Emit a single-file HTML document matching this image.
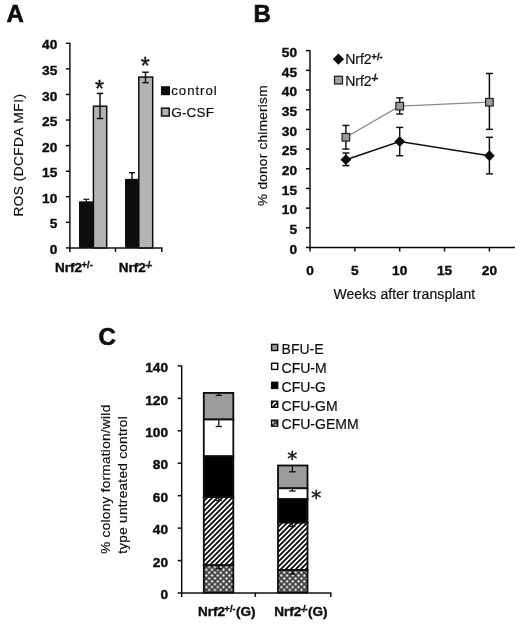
<!DOCTYPE html>
<html lang="en"><head><meta charset="utf-8"><title>Figure</title>
<style>html,body{margin:0;padding:0;background:#fff;}body{width:520px;height:627px;overflow:hidden;}svg{display:block;}text{font-family:"Liberation Sans", sans-serif;}</style>
</head><body>
<svg width="520" height="627" viewBox="0 0 520 627">
<defs>
<pattern id="hatch" width="5.0" height="5.0" patternUnits="userSpaceOnUse"><rect width="5.0" height="5.0" fill="#fff"/><path d="M-5.0 5.0 L5.0 -5.0 M0 5.0 L5.0 0 M0 10.0 L10.0 0" stroke="#0a0a0a" stroke-width="1.8"/></pattern>
<pattern id="dots" width="5.77" height="5.77" patternUnits="userSpaceOnUse"><rect width="5.77" height="5.77" fill="#404040"/><circle cx="1.4425" cy="1.4425" r="1.15" fill="#fff"/><circle cx="4.3275" cy="4.3275" r="1.15" fill="#fff"/></pattern>
<filter id="soft" x="-2%" y="-2%" width="104%" height="104%"><feGaussianBlur stdDeviation="0.18"/></filter>
</defs>
<rect width="520" height="627" fill="#fff"/>
<g filter="url(#soft)">
<text x="6.6" y="21.5" font-size="24" font-weight="bold" fill="#111" stroke="#111" stroke-width="0.6" >A</text>
<line x1="69.9" y1="42.8" x2="69.9" y2="248.5" stroke="#111" stroke-width="1.5" />
<line x1="69.30000000000001" y1="247.9" x2="162.5" y2="247.9" stroke="#111" stroke-width="1.5" />
<line x1="65.9" y1="247.9" x2="69.9" y2="247.9" stroke="#111" stroke-width="1.5" />
<text x="57.3" y="254.0" font-size="13.7" font-weight="bold" text-anchor="end" fill="#111" stroke="#111" stroke-width="0.4" >0</text>
<line x1="65.9" y1="222.32" x2="69.9" y2="222.32" stroke="#111" stroke-width="1.5" />
<text x="57.3" y="228.42" font-size="13.7" font-weight="bold" text-anchor="end" fill="#111" stroke="#111" stroke-width="0.4" >5</text>
<line x1="65.9" y1="196.75" x2="69.9" y2="196.75" stroke="#111" stroke-width="1.5" />
<text x="57.3" y="202.85" font-size="13.7" font-weight="bold" text-anchor="end" fill="#111" stroke="#111" stroke-width="0.4" >10</text>
<line x1="65.9" y1="171.18" x2="69.9" y2="171.18" stroke="#111" stroke-width="1.5" />
<text x="57.3" y="177.28" font-size="13.7" font-weight="bold" text-anchor="end" fill="#111" stroke="#111" stroke-width="0.4" >15</text>
<line x1="65.9" y1="145.6" x2="69.9" y2="145.6" stroke="#111" stroke-width="1.5" />
<text x="57.3" y="151.7" font-size="13.7" font-weight="bold" text-anchor="end" fill="#111" stroke="#111" stroke-width="0.4" >20</text>
<line x1="65.9" y1="120.03" x2="69.9" y2="120.03" stroke="#111" stroke-width="1.5" />
<text x="57.3" y="126.13" font-size="13.7" font-weight="bold" text-anchor="end" fill="#111" stroke="#111" stroke-width="0.4" >25</text>
<line x1="65.9" y1="94.45" x2="69.9" y2="94.45" stroke="#111" stroke-width="1.5" />
<text x="57.3" y="100.55" font-size="13.7" font-weight="bold" text-anchor="end" fill="#111" stroke="#111" stroke-width="0.4" >30</text>
<line x1="65.9" y1="68.88" x2="69.9" y2="68.88" stroke="#111" stroke-width="1.5" />
<text x="57.3" y="74.97999999999999" font-size="13.7" font-weight="bold" text-anchor="end" fill="#111" stroke="#111" stroke-width="0.4" >35</text>
<line x1="65.9" y1="43.3" x2="69.9" y2="43.3" stroke="#111" stroke-width="1.5" />
<text x="57.3" y="49.4" font-size="13.7" font-weight="bold" text-anchor="end" fill="#111" stroke="#111" stroke-width="0.4" >40</text>
<line x1="69.9" y1="247.9" x2="69.9" y2="251.9" stroke="#111" stroke-width="1.5" />
<line x1="115.5" y1="247.9" x2="115.5" y2="251.9" stroke="#111" stroke-width="1.5" />
<line x1="161.8" y1="247.9" x2="161.8" y2="251.9" stroke="#111" stroke-width="1.5" />
<rect x="79.0" y="201.35" width="14.4" height="46.55000000000001" fill="#080808" stroke="none" stroke-width="1"/>
<rect x="93.4" y="106.21" width="13.3" height="141.69" fill="#b3b3b3" stroke="#111" stroke-width="1.5"/>
<rect x="125" y="178.85" width="14.2" height="69.05000000000001" fill="#080808" stroke="none" stroke-width="1"/>
<rect x="138.8" y="77.06" width="13.9" height="170.84" fill="#b3b3b3" stroke="#111" stroke-width="1.5"/>
<line x1="86.3" y1="199.31" x2="86.3" y2="203.91" stroke="#111" stroke-width="1.2" />
<line x1="83.3" y1="199.31" x2="89.3" y2="199.31" stroke="#111" stroke-width="1.2" />
<line x1="83.3" y1="203.91" x2="89.3" y2="203.91" stroke="#111" stroke-width="1.2" />
<line x1="100.0" y1="93.43" x2="100.0" y2="118.49" stroke="#111" stroke-width="1.45" />
<line x1="96.75" y1="93.43" x2="103.25" y2="93.43" stroke="#111" stroke-width="1.45" />
<line x1="96.75" y1="118.49" x2="103.25" y2="118.49" stroke="#111" stroke-width="1.45" />
<line x1="132" y1="172.71" x2="132" y2="181.41" stroke="#111" stroke-width="1.45" />
<line x1="129.0" y1="172.71" x2="135.0" y2="172.71" stroke="#111" stroke-width="1.45" />
<line x1="129.0" y1="181.41" x2="135.0" y2="181.41" stroke="#111" stroke-width="1.45" />
<line x1="145.5" y1="72.2" x2="145.5" y2="82.69" stroke="#111" stroke-width="1.45" />
<line x1="142.25" y1="72.2" x2="148.75" y2="72.2" stroke="#111" stroke-width="1.45" />
<line x1="142.25" y1="82.69" x2="148.75" y2="82.69" stroke="#111" stroke-width="1.45" />
<text x="99.6" y="96.56" font-size="23" text-anchor="middle" fill="#111" stroke="#111" stroke-width="0.35">*</text>
<text x="145.2" y="74.46" font-size="23" text-anchor="middle" fill="#111" stroke="#111" stroke-width="0.35">*</text>
<rect x="161" y="86.2" width="9" height="9" fill="#111" stroke="none" stroke-width="1"/>
<text x="171.3" y="95.3" font-size="13.2" textLength="45.4" lengthAdjust="spacing" fill="#111" stroke="#111" stroke-width="0.2" >control</text>
<rect x="161.6" y="108.2" width="7.6" height="7.8" fill="#b3b3b3" stroke="#1a1a1a" stroke-width="1.6"/>
<text x="171.3" y="116.5" font-size="13.5" textLength="42.6" lengthAdjust="spacing" fill="#111" stroke="#111" stroke-width="0.2" >G-CSF</text>
<text x="23.5" y="216.6" font-size="13.6" textLength="122.6" lengthAdjust="spacing" transform="rotate(-90 23.5 216.6)" fill="#111" stroke="#111" stroke-width="0.2" >ROS (DCFDA MFI)</text>
<text x="55" y="271.9" font-size="13.5" font-weight="bold" fill="#111" stroke="#111" stroke-width="0.4" >Nrf2</text>
<text x="81.7" y="267.7" font-size="9" font-weight="bold" textLength="11.0" lengthAdjust="spacing" fill="#111" stroke="#111" stroke-width="0.4" >+/-</text>
<text x="118.8" y="271.9" font-size="13.5" font-weight="bold" fill="#111" stroke="#111" stroke-width="0.4" >Nrf2</text>
<text x="145.5" y="267.7" font-size="9" font-weight="bold" textLength="6.8" lengthAdjust="spacing" fill="#111" stroke="#111" stroke-width="0.4" >-/-</text>
<text x="253.6" y="21.5" font-size="24" font-weight="bold" fill="#111" stroke="#111" stroke-width="0.6" >B</text>
<line x1="310.0" y1="50.15" x2="310.0" y2="248.1" stroke="#111" stroke-width="1.5" />
<line x1="309.4" y1="247.5" x2="515" y2="247.5" stroke="#111" stroke-width="1.5" />
<line x1="306.0" y1="247.5" x2="310.0" y2="247.5" stroke="#111" stroke-width="1.5" />
<text x="297" y="253.7" font-size="13.7" font-weight="bold" text-anchor="end" fill="#111" stroke="#111" stroke-width="0.4" >0</text>
<line x1="306.0" y1="227.81" x2="310.0" y2="227.81" stroke="#111" stroke-width="1.5" />
<text x="297" y="234.01" font-size="13.7" font-weight="bold" text-anchor="end" fill="#111" stroke="#111" stroke-width="0.4" >5</text>
<line x1="306.0" y1="208.13" x2="310.0" y2="208.13" stroke="#111" stroke-width="1.5" />
<text x="297" y="214.32999999999998" font-size="13.7" font-weight="bold" text-anchor="end" fill="#111" stroke="#111" stroke-width="0.4" >10</text>
<line x1="306.0" y1="188.44" x2="310.0" y2="188.44" stroke="#111" stroke-width="1.5" />
<text x="297" y="194.64" font-size="13.7" font-weight="bold" text-anchor="end" fill="#111" stroke="#111" stroke-width="0.4" >15</text>
<line x1="306.0" y1="168.76" x2="310.0" y2="168.76" stroke="#111" stroke-width="1.5" />
<text x="297" y="174.95999999999998" font-size="13.7" font-weight="bold" text-anchor="end" fill="#111" stroke="#111" stroke-width="0.4" >20</text>
<line x1="306.0" y1="149.07" x2="310.0" y2="149.07" stroke="#111" stroke-width="1.5" />
<text x="297" y="155.26999999999998" font-size="13.7" font-weight="bold" text-anchor="end" fill="#111" stroke="#111" stroke-width="0.4" >25</text>
<line x1="306.0" y1="129.39" x2="310.0" y2="129.39" stroke="#111" stroke-width="1.5" />
<text x="297" y="135.58999999999997" font-size="13.7" font-weight="bold" text-anchor="end" fill="#111" stroke="#111" stroke-width="0.4" >30</text>
<line x1="306.0" y1="109.71" x2="310.0" y2="109.71" stroke="#111" stroke-width="1.5" />
<text x="297" y="115.91" font-size="13.7" font-weight="bold" text-anchor="end" fill="#111" stroke="#111" stroke-width="0.4" >35</text>
<line x1="306.0" y1="90.02" x2="310.0" y2="90.02" stroke="#111" stroke-width="1.5" />
<text x="297" y="96.22" font-size="13.7" font-weight="bold" text-anchor="end" fill="#111" stroke="#111" stroke-width="0.4" >40</text>
<line x1="306.0" y1="70.34" x2="310.0" y2="70.34" stroke="#111" stroke-width="1.5" />
<text x="297" y="76.54" font-size="13.7" font-weight="bold" text-anchor="end" fill="#111" stroke="#111" stroke-width="0.4" >45</text>
<line x1="306.0" y1="50.65" x2="310.0" y2="50.65" stroke="#111" stroke-width="1.5" />
<text x="297" y="56.85" font-size="13.7" font-weight="bold" text-anchor="end" fill="#111" stroke="#111" stroke-width="0.4" >50</text>
<line x1="310.0" y1="247.5" x2="310.0" y2="251.5" stroke="#111" stroke-width="1.5" />
<text x="310.0" y="275.2" font-size="13.7" font-weight="bold" text-anchor="middle" fill="#111" stroke="#111" stroke-width="0.4" >0</text>
<line x1="354.85" y1="247.5" x2="354.85" y2="251.5" stroke="#111" stroke-width="1.5" />
<text x="354.85" y="275.2" font-size="13.7" font-weight="bold" text-anchor="middle" fill="#111" stroke="#111" stroke-width="0.4" >5</text>
<line x1="399.7" y1="247.5" x2="399.7" y2="251.5" stroke="#111" stroke-width="1.5" />
<text x="399.7" y="275.2" font-size="13.7" font-weight="bold" text-anchor="middle" fill="#111" stroke="#111" stroke-width="0.4" >10</text>
<line x1="444.55" y1="247.5" x2="444.55" y2="251.5" stroke="#111" stroke-width="1.5" />
<text x="444.55" y="275.2" font-size="13.7" font-weight="bold" text-anchor="middle" fill="#111" stroke="#111" stroke-width="0.4" >15</text>
<line x1="489.4" y1="247.5" x2="489.4" y2="251.5" stroke="#111" stroke-width="1.5" />
<text x="489.4" y="275.2" font-size="13.7" font-weight="bold" text-anchor="middle" fill="#111" stroke="#111" stroke-width="0.4" >20</text>
<text x="333.4" y="299.1" font-size="14" textLength="141.8" lengthAdjust="spacing" fill="#111" stroke="#111" stroke-width="0.2" >Weeks after transplant</text>
<text x="267.2" y="206" font-size="13.6" textLength="120.5" lengthAdjust="spacing" transform="rotate(-90 267.2 206)" fill="#111" stroke="#111" stroke-width="0.2" >% donor chimerism</text>
<polyline points="345.88,137.26 399.7,106.16 489.4,102.22" fill="none" stroke="#8a8a8a" stroke-width="1.3"/>
<polyline points="345.88,159.7 399.7,141.59 489.4,155.77" fill="none" stroke="#111" stroke-width="1.5"/>
<line x1="345.88" y1="125.45" x2="345.88" y2="149.07" stroke="#111" stroke-width="1.45" />
<line x1="342.38" y1="125.45" x2="349.38" y2="125.45" stroke="#111" stroke-width="1.45" />
<line x1="342.38" y1="149.07" x2="349.38" y2="149.07" stroke="#111" stroke-width="1.45" />
<line x1="399.7" y1="97.89" x2="399.7" y2="114.04" stroke="#111" stroke-width="1.45" />
<line x1="396.2" y1="97.89" x2="403.2" y2="97.89" stroke="#111" stroke-width="1.45" />
<line x1="396.2" y1="114.04" x2="403.2" y2="114.04" stroke="#111" stroke-width="1.45" />
<line x1="489.4" y1="73.48" x2="489.4" y2="129.39" stroke="#111" stroke-width="1.45" />
<line x1="485.9" y1="73.48" x2="492.9" y2="73.48" stroke="#111" stroke-width="1.45" />
<line x1="485.9" y1="129.39" x2="492.9" y2="129.39" stroke="#111" stroke-width="1.45" />
<line x1="345.88" y1="153.01" x2="345.88" y2="165.61" stroke="#111" stroke-width="1.45" />
<line x1="342.38" y1="153.01" x2="349.38" y2="153.01" stroke="#111" stroke-width="1.45" />
<line x1="342.38" y1="165.61" x2="349.38" y2="165.61" stroke="#111" stroke-width="1.45" />
<line x1="399.7" y1="127.42" x2="399.7" y2="155.77" stroke="#111" stroke-width="1.45" />
<line x1="396.2" y1="127.42" x2="403.2" y2="127.42" stroke="#111" stroke-width="1.45" />
<line x1="396.2" y1="155.77" x2="403.2" y2="155.77" stroke="#111" stroke-width="1.45" />
<line x1="489.4" y1="137.26" x2="489.4" y2="173.88" stroke="#111" stroke-width="1.45" />
<line x1="485.9" y1="137.26" x2="492.9" y2="137.26" stroke="#111" stroke-width="1.45" />
<line x1="485.9" y1="173.88" x2="492.9" y2="173.88" stroke="#111" stroke-width="1.45" />
<rect x="342.08" y="133.45999999999998" width="7.6" height="7.6" fill="#999" stroke="#222" stroke-width="1.2"/>
<rect x="395.9" y="102.36" width="7.6" height="7.6" fill="#999" stroke="#222" stroke-width="1.2"/>
<rect x="485.59999999999997" y="98.42" width="7.6" height="7.6" fill="#999" stroke="#222" stroke-width="1.2"/>
<polygon points="340.48,159.7 345.88,154.29999999999998 351.28,159.7 345.88,165.1" fill="#111"/>
<polygon points="394.3,141.59 399.7,136.19 405.09999999999997,141.59 399.7,146.99" fill="#111"/>
<polygon points="484.0,155.77 489.4,150.37 494.79999999999995,155.77 489.4,161.17000000000002" fill="#111"/>
<polygon points="332.7,59.2 338.4,53.6 344.09999999999997,59.2 338.4,64.8" fill="#111"/>
<text x="345.2" y="63.9" font-size="14" fill="#111" stroke="#111" stroke-width="0.2" >Nrf2</text>
<text x="371.5" y="59.699999999999996" font-size="9" font-weight="bold" textLength="11.0" lengthAdjust="spacing" fill="#111" stroke="#111" stroke-width="0.4" >+/-</text>
<rect x="334.5" y="76.3" width="8.0" height="7.6" fill="#a4a4a4" stroke="#222" stroke-width="1.3"/>
<text x="345.2" y="85.6" font-size="14" fill="#111" stroke="#111" stroke-width="0.2" >Nrf2</text>
<text x="371.5" y="81.39999999999999" font-size="9" font-weight="bold" textLength="6.8" lengthAdjust="spacing" fill="#111" stroke="#111" stroke-width="0.4" >-/-</text>
<text x="98.5" y="345.2" font-size="24" font-weight="bold" fill="#111" stroke="#111" stroke-width="0.6" >C</text>
<line x1="181.7" y1="365.42" x2="181.7" y2="593.6" stroke="#111" stroke-width="1.5" />
<line x1="181.1" y1="593.0" x2="331.4" y2="593.0" stroke="#111" stroke-width="1.5" />
<line x1="177.7" y1="593.0" x2="181.7" y2="593.0" stroke="#111" stroke-width="1.5" />
<text x="168" y="599.2" font-size="13.7" font-weight="bold" text-anchor="end" fill="#111" stroke="#111" stroke-width="0.4" >0</text>
<line x1="177.7" y1="560.56" x2="181.7" y2="560.56" stroke="#111" stroke-width="1.5" />
<text x="168" y="566.76" font-size="13.7" font-weight="bold" text-anchor="end" fill="#111" stroke="#111" stroke-width="0.4" >20</text>
<line x1="177.7" y1="528.12" x2="181.7" y2="528.12" stroke="#111" stroke-width="1.5" />
<text x="168" y="534.32" font-size="13.7" font-weight="bold" text-anchor="end" fill="#111" stroke="#111" stroke-width="0.4" >40</text>
<line x1="177.7" y1="495.68" x2="181.7" y2="495.68" stroke="#111" stroke-width="1.5" />
<text x="168" y="501.88" font-size="13.7" font-weight="bold" text-anchor="end" fill="#111" stroke="#111" stroke-width="0.4" >60</text>
<line x1="177.7" y1="463.24" x2="181.7" y2="463.24" stroke="#111" stroke-width="1.5" />
<text x="168" y="469.44" font-size="13.7" font-weight="bold" text-anchor="end" fill="#111" stroke="#111" stroke-width="0.4" >80</text>
<line x1="177.7" y1="430.8" x2="181.7" y2="430.8" stroke="#111" stroke-width="1.5" />
<text x="168" y="437.0" font-size="13.7" font-weight="bold" text-anchor="end" fill="#111" stroke="#111" stroke-width="0.4" >100</text>
<line x1="177.7" y1="398.36" x2="181.7" y2="398.36" stroke="#111" stroke-width="1.5" />
<text x="168" y="404.56" font-size="13.7" font-weight="bold" text-anchor="end" fill="#111" stroke="#111" stroke-width="0.4" >120</text>
<line x1="177.7" y1="365.92" x2="181.7" y2="365.92" stroke="#111" stroke-width="1.5" />
<text x="168" y="372.12" font-size="13.7" font-weight="bold" text-anchor="end" fill="#111" stroke="#111" stroke-width="0.4" >140</text>
<line x1="181.7" y1="593.0" x2="181.7" y2="597.0" stroke="#111" stroke-width="1.5" />
<line x1="255.3" y1="593.0" x2="255.3" y2="597.0" stroke="#111" stroke-width="1.5" />
<line x1="330.8" y1="593.0" x2="330.8" y2="597.0" stroke="#111" stroke-width="1.5" />
<rect x="203.8" y="392.9" width="29.5" height="26.600000000000023" fill="#9c9c9c" stroke="#0a0a0a" stroke-width="1.8"/>
<rect x="203.8" y="419.5" width="29.5" height="36.80000000000001" fill="#fff" stroke="#0a0a0a" stroke-width="1.8"/>
<rect x="203.8" y="456.3" width="29.5" height="40.69999999999999" fill="#050505" stroke="#0a0a0a" stroke-width="1.8"/>
<rect x="203.8" y="497.0" width="29.5" height="68.29999999999995" fill="url(#hatch)" stroke="#0a0a0a" stroke-width="1.8"/>
<rect x="203.8" y="565.3" width="29.5" height="27.300000000000068" fill="url(#dots)" stroke="#0a0a0a" stroke-width="1.8"/>
<rect x="278.0" y="465.5" width="29.5" height="22.80000000000001" fill="#9c9c9c" stroke="#0a0a0a" stroke-width="1.8"/>
<rect x="278.0" y="488.3" width="29.5" height="10.899999999999977" fill="#fff" stroke="#0a0a0a" stroke-width="1.8"/>
<rect x="278.0" y="499.2" width="29.5" height="23.500000000000057" fill="#050505" stroke="#0a0a0a" stroke-width="1.8"/>
<rect x="278.0" y="522.7" width="29.5" height="47.299999999999955" fill="url(#hatch)" stroke="#0a0a0a" stroke-width="1.8"/>
<rect x="278.0" y="570.0" width="29.5" height="22.600000000000023" fill="url(#dots)" stroke="#0a0a0a" stroke-width="1.8"/>
<line x1="218.8" y1="392.6" x2="218.8" y2="395.4" stroke="#111" stroke-width="1.3" />
<line x1="215.70000000000002" y1="395.4" x2="221.9" y2="395.4" stroke="#111" stroke-width="1.3" />
<line x1="218.8" y1="419.6" x2="218.8" y2="426.5" stroke="#111" stroke-width="1.3" />
<line x1="215.70000000000002" y1="426.5" x2="221.9" y2="426.5" stroke="#111" stroke-width="1.3" />
<line x1="218.8" y1="497.0" x2="218.8" y2="500.5" stroke="#111" stroke-width="1.3" />
<line x1="215.8" y1="500.5" x2="221.8" y2="500.5" stroke="#111" stroke-width="1.3" />
<line x1="218.8" y1="565.3" x2="218.8" y2="568.8" stroke="#111" stroke-width="1.3" />
<line x1="215.8" y1="568.8" x2="221.8" y2="568.8" stroke="#111" stroke-width="1.3" />
<line x1="292.4" y1="465.6" x2="292.4" y2="471.8" stroke="#111" stroke-width="1.3" />
<line x1="289.15" y1="471.8" x2="295.65" y2="471.8" stroke="#111" stroke-width="1.3" />
<line x1="292.4" y1="488.4" x2="292.4" y2="491.0" stroke="#111" stroke-width="1.3" />
<line x1="289.15" y1="491.0" x2="295.65" y2="491.0" stroke="#111" stroke-width="1.3" />
<line x1="292.4" y1="522.7" x2="292.4" y2="526.5" stroke="#111" stroke-width="1.3" />
<line x1="289.4" y1="526.5" x2="295.4" y2="526.5" stroke="#111" stroke-width="1.3" />
<line x1="292.4" y1="570.0" x2="292.4" y2="574.0" stroke="#111" stroke-width="1.3" />
<line x1="289.4" y1="574.0" x2="295.4" y2="574.0" stroke="#111" stroke-width="1.3" />
<text x="292.3" y="465.1" font-size="20" text-anchor="middle" fill="#111" stroke="#111" stroke-width="0.45" style="font-family:'DejaVu Sans',sans-serif">*</text>
<text x="316.2" y="503.6" font-size="20" text-anchor="middle" fill="#111" stroke="#111" stroke-width="0.45" style="font-family:'DejaVu Sans',sans-serif">*</text>
<rect x="271.6" y="344.4" width="6.1" height="6.1" fill="#9c9c9c" stroke="#111" stroke-width="1.4"/>
<text x="281.6" y="353.7" font-size="14" fill="#111" stroke="#111" stroke-width="0.2" >BFU-E</text>
<rect x="271.6" y="363.3" width="6.1" height="6.1" fill="#fff" stroke="#111" stroke-width="1.4"/>
<text x="281.6" y="372.6" font-size="14" fill="#111" stroke="#111" stroke-width="0.2" >CFU-M</text>
<rect x="271.6" y="382.3" width="6.1" height="6.1" fill="#050505" stroke="#111" stroke-width="1.4"/>
<text x="281.6" y="391.6" font-size="14" fill="#111" stroke="#111" stroke-width="0.2" >CFU-G</text>
<rect x="271.6" y="401.2" width="6.1" height="6.1" fill="url(#hatch)" stroke="#111" stroke-width="1.4"/>
<text x="281.6" y="410.5" font-size="14" fill="#111" stroke="#111" stroke-width="0.2" >CFU-GM</text>
<rect x="271.6" y="420.09999999999997" width="6.1" height="6.1" fill="url(#dots)" stroke="#111" stroke-width="1.4"/>
<text x="281.6" y="429.4" font-size="14" fill="#111" stroke="#111" stroke-width="0.2" >CFU-GEMM</text>
<text x="109.6" y="553.8" font-size="13.6" textLength="149" lengthAdjust="spacing" transform="rotate(-90 109.6 553.8)" fill="#111" stroke="#111" stroke-width="0.2" >% colony formation/wild</text>
<text x="127.2" y="553.8" font-size="13.6" textLength="137.5" lengthAdjust="spacing" transform="rotate(-90 127.2 553.8)" fill="#111" stroke="#111" stroke-width="0.2" >type untreated control</text>
<text x="197.9" y="616.1" font-size="13.5" font-weight="bold" fill="#111" stroke="#111" stroke-width="0.4" >Nrf2</text>
<text x="224.6" y="611.9" font-size="9" font-weight="bold" textLength="11.0" lengthAdjust="spacing" fill="#111" stroke="#111" stroke-width="0.4" >+/-</text>
<text x="236.0" y="616.1" font-size="13.5" font-weight="bold" fill="#111" stroke="#111" stroke-width="0.4" >(G)</text>
<text x="274.2" y="616.1" font-size="13.5" font-weight="bold" fill="#111" stroke="#111" stroke-width="0.4" >Nrf2</text>
<text x="300.9" y="611.9" font-size="9" font-weight="bold" textLength="6.8" lengthAdjust="spacing" fill="#111" stroke="#111" stroke-width="0.4" >-/-</text>
<text x="308.09999999999997" y="616.1" font-size="13.5" font-weight="bold" fill="#111" stroke="#111" stroke-width="0.4" >(G)</text>
</g></svg>
</body></html>
